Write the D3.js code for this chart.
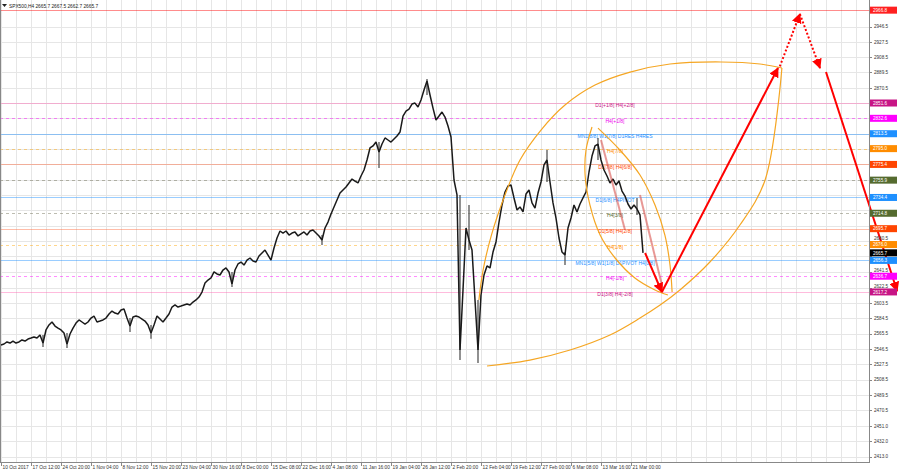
<!DOCTYPE html>
<html><head><meta charset="utf-8">
<script src="https://cdn.jsdelivr.net/npm/d3@7"></script>
<style>body{margin:0;background:#fff;} svg{display:block;font-family:"Liberation Sans",Arial,sans-serif;}</style>
</head><body><svg id="c" width="900" height="472"></svg>
<script>
// ---------------- DATA ----------------
const symbolTitle = "SPX500,H4  2665.7 2667.5 2662.7 2665.7";
// H4 closes, one sample per ~3px bar group
const closes = [
2551.4,2552.6,2555.1,2553.8,2556.3,2553.8,2555.1,2557.6,2556.3,2558.8,
2560.0,2561.3,2560.0,2563.8,2553.8,2570.0,2576.2,2579.9,2574.9,2572.4,
2570.0,2566.2,2552.6,2565.0,2572.4,2578.6,2582.4,2579.9,2577.4,2579.9,
2584.8,2587.3,2579.9,2581.1,2582.4,2584.8,2589.8,2593.5,2591.0,2589.8,
2594.8,2596.0,2584.8,2574.9,2586.1,2587.3,2586.1,2583.6,2581.1,2576.2,
2566.2,2576.2,2587.3,2583.6,2579.9,2584.8,2589.8,2598.5,2601.0,2598.5,
2599.7,2601.0,2602.2,2601.0,2604.7,2607.2,2610.9,2617.1,2628.3,2632.0,
2634.5,2642.0,2639.5,2638.2,2644.4,2646.9,2642.0,2627.1,2644.4,2651.9,
2654.3,2650.6,2656.8,2659.3,2655.6,2654.3,2661.8,2665.5,2669.2,2663.0,
2656.8,2671.7,2684.1,2692.8,2690.3,2692.8,2687.8,2690.3,2691.6,2686.6,
2689.1,2691.6,2687.8,2692.8,2694.0,2690.3,2686.6,2681.6,2696.5,2703.9,
2713.9,2722.6,2731.3,2739.9,2743.7,2747.4,2752.4,2757.3,2754.8,2752.4,
2761.0,2768.5,2780.9,2795.8,2798.3,2803.2,2790.8,2800.7,2808.2,2805.7,
2803.2,2806.9,2810.6,2815.6,2835.4,2841.6,2844.1,2850.3,2851.5,2846.6,
2855.3,2867.7,2878.9,2861.5,2845.3,2830.5,2835.4,2840.4,2834.2,2823.0,
2809.4,2756.1,2737.5,2545.2,2619.6,2696.5,2681.6,2669.2,2607.2,2545.2,
2613.4,2638.2,2649.4,2646.9,2666.7,2679.2,2703.9,2725.1,2741.2,2748.6,
2749.9,2733.8,2718.9,2722.6,2716.4,2738.7,2743.7,2727.6,2721.3,2739.9,
2753.6,2774.7,2780.9,2753.6,2727.6,2708.9,2684.1,2666.7,2663.0,2696.5,
2708.9,2725.1,2716.4,2726.3,2733.8,2741.2,2766.0,2785.8,2798.3,2800.7,
2780.9,2768.5,2761.0,2752.4,2757.3,2749.9,2754.8,2742.4,2736.2,2726.3,
2720.1,2725.1,2720.1,2712.7,2665.7
];
// notable wicks: [bar, high, low]
const wickBars  = [14, 22, 43, 50, 77, 107, 126, 142, 153, 156, 159, 182, 188, 199, 212];
const wickHighs = [2563.8,2566.2,2584.8,2576.2,2642.0,2687.8,2803.2,2881.5,2737.5,2725.1,2607.2,2793.3,2666.7,2808.2,2733.8];
const wickLows  = [2548.8,2547.6,2567.5,2559.0,2623.3,2675.4,2771.0,2861.5,2532.7,2669.2,2529.0,2753.6,2650.6,2780.9,2712.7];

const xTickLabels = ["10 Oct 2017","17 Oct 12:00","24 Oct 20:00","1 Nov 04:00","8 Nov 12:00","15 Nov 20:00",
  "23 Nov 04:00","30 Nov 16:00","8 Dec 00:00","15 Dec 08:00","22 Dec 16:00","4 Jan 08:00","11 Jan 16:00",
  "19 Jan 04:00","26 Jan 12:00","2 Feb 20:00","12 Feb 04:00","19 Feb 12:00","27 Feb 00:00","6 Mar 08:00",
  "13 Mar 16:00","21 Mar 00:00"];
const yTickLabels = ["2946.5","2927.5","2908.5","2889.5","2870.5","2851.5","2832.5","2813.5","2794.5","2775.5",
  "2756.5","2737.5","2718.5","2699.5","2680.5","2661.5","2641.5","2622.5","2603.5","2584.5","2565.5","2546.5",
  "2527.5","2508.5","2489.5","2470.5","2451.0","2432.0","2413.0"];

// Murray-math levels
const levelPrices = [2966.8, 2851.6, 2832.6, 2813.5, 2795.0, 2775.4, 2755.9, 2734.4, 2714.8, 2695.7, 2676.0, 2656.3, 2636.7, 2617.2];
const levelNames  = ["", "D1[+1/8] H4[+2/8]", "H4[+1/8]", "MN1[8/8] W1[7/8] D1RES H4RES", "H4[7/8]", "D1[7/8] H4[6/8]",
  "", "D1[6/8] H4PIVOT", "H4[3/8]", "D1[5/8] H4[2/8]", "H4[1/8]", "MN1[5/8] W1[1/8] D1PIVOT H4[0/8]", "H4[-1/8]", "D1[3/8] H4[-2/8]"];
const lastPrice = 2665.7;

// forecast drawings: [bar, price]
const forecastSolid1 = [[214.7, 2665.5], [220.3, 2617.1]];
const forecastSolid2 = [[220.3, 2617.1], [259.0, 2895.0]];
const forecastDot1   = [[259.6, 2897.0], [266.3, 2962.0]];
const forecastDot2   = [[266.3, 2962.0], [273.0, 2895.0]];
const forecastSolid3 = [[275.0, 2890.1], [298.7, 2618.4]];
const fadedLine1 = [[200.0, 2805.7], [208.0, 2694.0]];
const fadedLine2 = [[213.0, 2737.5], [220.7, 2619.6]];
// orange arcs: [bar, price]
const arcTop = [[159.3,2607.2],[160.7,2644.4],[163.5,2688.0],[168.0,2737.5],[173.0,2780.9],[180.0,2818.1],
  [188.0,2849.1],[198.0,2873.9],[209.7,2890.0],[223.0,2900.0],[240.0,2902.5],[253.0,2900.0],[260.3,2895.0]];
const arcBottom = [[162.0,2525.3],[176.3,2532.7],[189.7,2545.2],[203.0,2563.8],[213.0,2584.8],[219.7,2600.9],
  [226.3,2619.6],[236.3,2654.3],[246.3,2700.2],[254.7,2756.1],[260.3,2895.0]];
const lensLeft = [[197.0,2821.8],[195.0,2793.3],[194.7,2762.3],[196.3,2725.1],[199.7,2687.8],[204.7,2659.3],
  [211.3,2634.5],[218.0,2619.6],[222.3,2613.4]];
const lensRight = [[199.0,2820.5],[206.3,2793.3],[213.0,2762.3],[218.0,2725.1],[221.3,2687.8],[223.0,2650.6],[223.7,2617.1]];

// ---------------- STYLES ----------------
const levelStyle = [
  {c:"#ff0000", box:"#ff2020", dash:null},
  {c:"#ff69b4", box:"#c71585", dash:null, t:"#c71585"},
  {c:"#ff00ff", box:"#ff00ff", dash:"3,3", t:"#ee00ee"},
  {c:"#1e90ff", box:"#1e90ff", dash:null, t:"#1e90ff"},
  {c:"#ffa500", box:"#ff8c00", dash:"3,3", t:"#ff8c00"},
  {c:"#ff6a3d", box:"#ff4500", dash:null, t:"#ff4500"},
  {c:"#6b6b4f", box:"#556b2f", dash:"3,3", t:"#556b2f"},
  {c:"#1e90ff", box:"#1e90ff", dash:null, t:"#1e90ff"},
  {c:"#6b6b4f", box:"#556b2f", dash:"3,3", t:"#556b2f"},
  {c:"#ff6a3d", box:"#ff4500", dash:null, t:"#ff4500"},
  {c:"#ffa500", box:"#ff8c00", dash:"3,3", t:"#ff8c00"},
  {c:"#1e90ff", box:"#1e90ff", dash:null, t:"#1e90ff"},
  {c:"#ff00ff", box:"#ff00ff", dash:"3,3", t:"#ee00ee"},
  {c:"#ff69b4", box:"#c71585", dash:null, t:"#c71585"}
];

const R = 869, B = 462, BOXH = 7;
const svg = d3.select("#c");
const x = d3.scaleLinear().domain([0, 289]).range([1, 868]);
const y = d3.scaleLinear().domain([2406.2, 2979.4]).range([B, 0]);

// grid
const g = svg.append("g");
const vgrid = d3.range(0, 290, 5);
g.selectAll("line.vg").data(vgrid).enter().append("line")
  .attr("x1", d => Math.round(x(d)) + 0.5).attr("x2", d => Math.round(x(d)) + 0.5)
  .attr("y1", 0).attr("y2", B).attr("stroke", "#e6e6e6").attr("stroke-width", 1);
g.selectAll("line.hg").data(yTickLabels).enter().append("line")
  .attr("x1", 0).attr("x2", R).attr("y1", d => Math.round(y(+d)) + 0.5).attr("y2", d => Math.round(y(+d)) + 0.5)
  .attr("stroke", "#e6e6e6").attr("stroke-width", 1);

// level lines
const lv = svg.append("g");
levelPrices.forEach((p, k) => {
  const s = levelStyle[k];
  lv.append("line").attr("x1", 0).attr("x2", R)
    .attr("y1", Math.round(y(p)) + 0.5).attr("y2", Math.round(y(p)) + 0.5)
    .attr("stroke", s.c).attr("stroke-opacity", 0.45).attr("stroke-width", 1.2)
    .attr("stroke-dasharray", s.dash);
});

// price series
const pg = svg.append("g");
pg.selectAll("line.wk").data(wickBars).enter().append("line")
  .attr("x1", d => x(d)).attr("x2", d => x(d))
  .attr("y1", (d, k) => y(wickHighs[k])).attr("y2", (d, k) => y(wickLows[k]))
  .attr("stroke", "#555").attr("stroke-width", 1.3);
const line = d3.line().x((d, i) => x(i)).y(d => y(d));
pg.append("path").datum(closes).attr("d", line).attr("fill", "none")
  .attr("stroke", "#1a1a1a").attr("stroke-width", 1.5).attr("stroke-linejoin", "bevel");

// level labels
levelPrices.forEach((p, k) => {
  if (!levelNames[k]) return;
  lv.append("text").attr("x", 615).attr("y", y(p) + 4.2).attr("text-anchor", "middle")
    .attr("font-size", 5).attr("fill", levelStyle[k].t).text(levelNames[k]);
});

// orange arcs
const curve = d3.line().x(d => x(d[0])).y(d => y(d[1])).curve(d3.curveCatmullRom.alpha(0.5));
[arcTop, arcBottom, lensLeft, lensRight].forEach(a => {
  svg.append("path").attr("d", curve(a)).attr("fill", "none").attr("stroke", "#f5a623").attr("stroke-width", 1.2);
});

// arrows
const defs = svg.append("defs");
defs.append("marker").attr("id", "ah").attr("viewBox", "0 0 10 10").attr("refX", 9).attr("refY", 5)
  .attr("markerWidth", 5).attr("markerHeight", 5).attr("orient", "auto")
  .append("path").attr("d", "M0,0L10,5L0,10z").attr("fill", "#ff0000");
const seg = d3.line().x(d => x(d[0])).y(d => y(d[1]));
[fadedLine1, fadedLine2].forEach(a => svg.append("path").attr("d", seg(a))
  .attr("stroke", "#d9534f").attr("stroke-opacity", 0.6).attr("stroke-width", 2).attr("fill", "none"));
[forecastSolid1, forecastSolid2, forecastSolid3].forEach(a => svg.append("path").attr("d", seg(a))
  .attr("stroke", "#ff0000").attr("stroke-width", 2).attr("fill", "none").attr("marker-end", "url(#ah)"));
[forecastDot1, forecastDot2].forEach(a => svg.append("path").attr("d", seg(a))
  .attr("stroke", "#ff0000").attr("stroke-width", 2).attr("stroke-dasharray", "2,2").attr("fill", "none").attr("marker-end", "url(#ah)"));

// frame
svg.append("line").attr("x1", R + 0.5).attr("x2", R + 0.5).attr("y1", 0).attr("y2", B + 1).attr("stroke", "#888");
svg.append("line").attr("x1", 0).attr("x2", R + 1).attr("y1", B + 0.5).attr("y2", B + 0.5).attr("stroke", "#888");
svg.append("line").attr("x1", 0.5).attr("x2", 0.5).attr("y1", 0).attr("y2", B).attr("stroke", "#888");

// y axis labels (those hidden behind price boxes are skipped, near ones nudged clear of the box)
const boxYs = levelPrices.concat([lastPrice]).map(p => y(p));
const ya = svg.append("g");
yTickLabels.forEach(t => {
  const yy = y(+t);
  ya.append("line").attr("x1", R).attr("x2", R + 3).attr("y1", Math.round(yy) + 0.5).attr("y2", Math.round(yy) + 0.5).attr("stroke", "#888");
  let base = yy + 1.8;
  let hidden = false;
  boxYs.forEach(by => {
    const d = by - yy;
    if (Math.abs(d) < 3.5) hidden = true;
    else if (d > 0 && d < 9) base = Math.min(base, by - BOXH / 2 - 0.6);
    else if (d < 0 && d > -9) base = Math.max(base, by + BOXH / 2 + 4.2);
  });
  if (hidden) return;
  ya.append("text").attr("x", 874).attr("y", base).attr("font-size", 4.6).attr("fill", "#333").text(t);
});
// x axis labels
xTickLabels.forEach((t, k) => {
  const xx = Math.round(x(k * 10)) + 0.5;
  svg.append("line").attr("x1", xx).attr("x2", xx).attr("y1", B).attr("y2", B + 4).attr("stroke", "#888");
  svg.append("text").attr("x", xx + 1).attr("y", 469).attr("font-size", 4.8).attr("fill", "#333").text(t);
});

// price boxes
function box(p, col, txt) {
  const yy = y(p);
  svg.append("rect").attr("x", 870).attr("y", yy - BOXH / 2).attr("width", 27).attr("height", BOXH).attr("fill", col);
  svg.append("text").attr("x", 873).attr("y", yy + 1.7).attr("font-size", 4.6).attr("fill", "#fff").text(txt);
}
levelPrices.forEach((p, k) => box(p, levelStyle[k].box, p.toFixed(1)));
box(lastPrice, "#000", lastPrice.toFixed(1));

// title
svg.append("path").attr("d", "M2,4L7,4L4.5,7z").attr("fill", "#222");
svg.append("text").attr("x", 9).attr("y", 7.5).attr("font-size", 4.8).attr("fill", "#222").text(symbolTitle);
</script></body></html>
